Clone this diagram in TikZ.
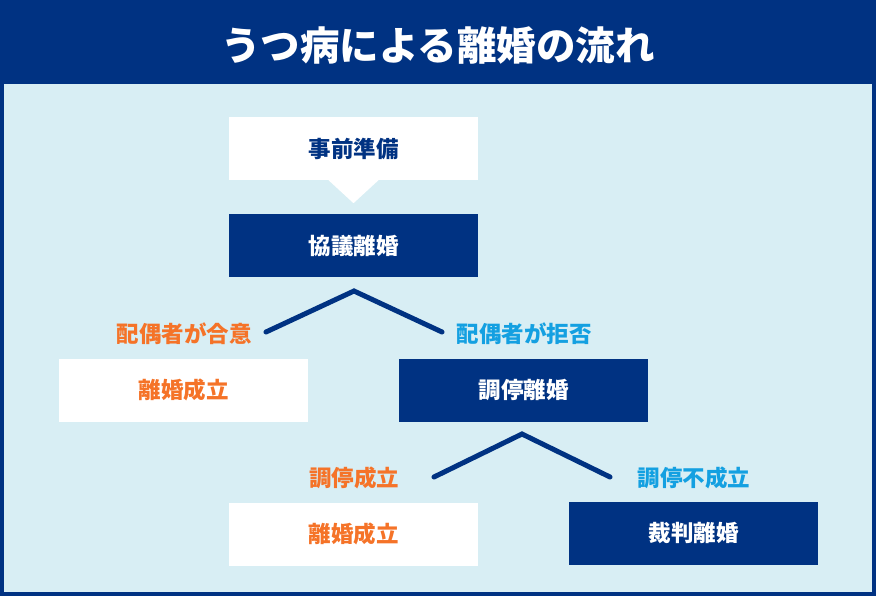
\documentclass[tikz,border=0pt]{standalone}
\usepackage{fontspec}
\usetikzlibrary{calc}
\setmainfont{Noto Sans CJK JP}
\definecolor{navy}{RGB}{0,50,130}
\definecolor{panel}{RGB}{216,238,244}
\definecolor{orng}{RGB}{245,115,40}
\definecolor{cyanl}{RGB}{20,160,225}
\begin{document}
\begin{tikzpicture}[x=1pt,y=-1pt,
  box/.style={minimum width=249pt,minimum height=63pt,inner sep=0pt,font=\fontsize{22.5}{26}\selectfont\bfseries},
  wbox/.style={box,fill=white,text=navy},
  nbox/.style={box,fill=navy,text=white},
  obox/.style={box,fill=white,text=orng},
  lbl/.style={inner sep=0pt,font=\fontsize{22.5}{26}\selectfont\bfseries},
  conn/.style={draw=navy,line width=5pt,line cap=round,line join=miter}]
\fill[navy] (0,0) rectangle (876,596);
\fill[panel] (4,84) rectangle (872,592);
\node[text=white,font=\fontsize{39.5}{44}\selectfont\bfseries] (title) at (438,45) {うつ病による離婚の流れ};
\node[wbox] (prep) at (353.5,148.5) {事前準備};
\fill[white] ($(prep.south)+(-25,0)$) -- ($(prep.south)+(0,23)$) -- ($(prep.south)+(25,0)$) -- cycle;
\node[nbox] (kyogi) at (353.5,245.5) {協議離婚};
\node[obox] (seiritsu1) at (183.5,390) {離婚成立};
\node[nbox] (chotei) at (523.5,390) {調停離婚};
\node[obox] (seiritsu2) at (353.5,534) {離婚成立};
\node[nbox] (saiban) at (693.5,533) {裁判離婚};
\node[lbl,text=orng] (goi) at (184,334) {配偶者が合意};
\node[lbl,text=cyanl] (kyohi) at (524,334) {配偶者が拒否};
\node[lbl,text=orng] (cseiritsu) at (354,478) {調停成立};
\node[lbl,text=cyanl] (cfuseiritsu) at (694,478) {調停不成立};
\coordinate (a1) at (354,291);
\coordinate (l1) at (266,332);
\coordinate (r1) at (442,332);
\coordinate (a2) at (522,434);
\coordinate (l2) at (434,477);
\coordinate (r2) at (610,477);
\draw[conn] (l1) -- (a1) -- (r1);
\draw[conn] (l2) -- (a2) -- (r2);
\end{tikzpicture}
\end{document}
